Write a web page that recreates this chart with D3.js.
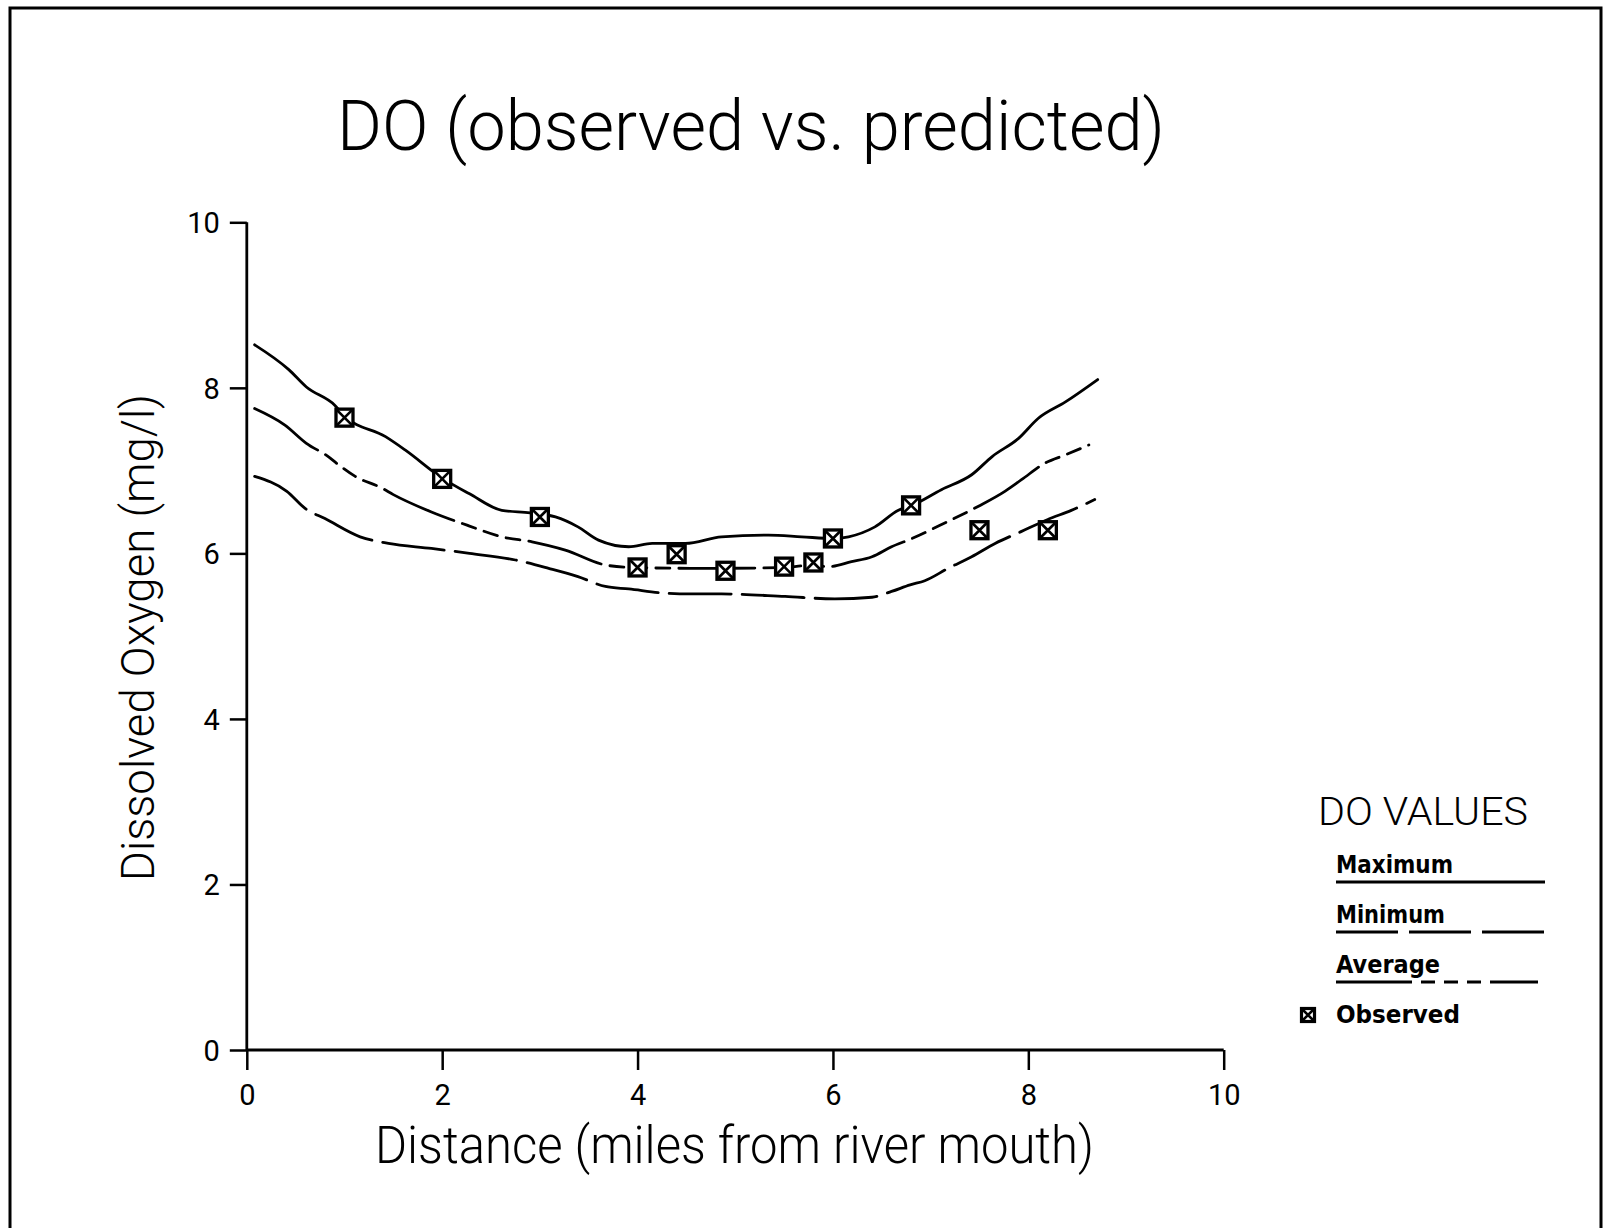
<!DOCTYPE html>
<html>
<head>
<meta charset="utf-8">
<script src="https://cdn.jsdelivr.net/npm/d3@7"></script>
<style>
  html, body { margin: 0; padding: 0; background: #fff; }
  svg { display: block; }
  .thin { font-family: Roboto, "Liberation Sans Narrow", "DejaVu Sans", sans-serif; font-weight: 300; }
  .tick-label { font-family: Roboto, "Liberation Sans Narrow", "DejaVu Sans", sans-serif; font-weight: 400; }
  .bold { font-family: "DejaVu Sans", Verdana, sans-serif; font-weight: bold; }
</style>
</head>
<body>
<svg id="chart" width="1603" height="1228"></svg>
<script>
// Predicted DO along the river: maximum, average and minimum model output
const maxDist = [0.08, 0.43, 0.61, 0.90, 1.00, 1.42, 1.62, 2.00, 2.28, 2.61, 2.90, 3.16, 3.39, 3.60, 3.91, 4.15, 4.49, 4.86, 5.34, 5.68, 6.00, 6.16, 6.43, 6.67, 6.81, 7.11, 7.42, 7.63, 7.90, 8.10, 8.38, 8.71];
const maxDO   = [8.52, 8.22, 8.01, 7.79, 7.66, 7.41, 7.25, 6.91, 6.72, 6.52, 6.49, 6.44, 6.32, 6.16, 6.08, 6.12, 6.12, 6.20, 6.22, 6.20, 6.18, 6.20, 6.32, 6.52, 6.58, 6.77, 6.95, 7.17, 7.39, 7.63, 7.83, 8.10];

const avgDist = [0.08, 0.39, 0.61, 0.82, 0.94, 1.11, 1.38, 1.50, 1.89, 2.28, 2.61, 2.92, 3.26, 3.67, 3.94, 4.54, 4.90, 5.51, 5.80, 5.95, 6.19, 6.40, 6.60, 6.79, 7.15, 7.49, 7.76, 7.93, 8.17, 8.38, 8.62];
const avgDO   = [7.75, 7.55, 7.33, 7.18, 7.07, 6.93, 6.79, 6.71, 6.50, 6.33, 6.20, 6.14, 6.04, 5.86, 5.83, 5.82, 5.82, 5.83, 5.86, 5.84, 5.90, 5.96, 6.08, 6.17, 6.37, 6.57, 6.75, 6.89, 7.09, 7.19, 7.31];

const minDist = [0.08, 0.41, 0.60, 0.80, 1.16, 1.45, 1.89, 2.28, 2.75, 3.09, 3.39, 3.67, 3.91, 4.28, 4.54, 4.86, 5.51, 6.02, 6.40, 6.60, 6.79, 6.94, 7.18, 7.42, 7.66, 7.92, 8.20, 8.44, 8.68];
const minDO   = [6.93, 6.75, 6.54, 6.42, 6.20, 6.12, 6.06, 6.00, 5.92, 5.82, 5.72, 5.60, 5.57, 5.52, 5.51, 5.51, 5.48, 5.45, 5.47, 5.54, 5.62, 5.67, 5.82, 5.96, 6.12, 6.26, 6.41, 6.52, 6.65];

// Field observations
const obsDist = [1.0, 2.0, 3.0, 4.0, 4.4, 4.9, 5.5, 5.8, 6.0, 6.8, 7.5, 8.2];
const obsDO   = [7.64, 6.90, 6.44, 5.83, 5.99, 5.79, 5.84, 5.89, 6.18, 6.58, 6.28, 6.28];

// Axis ticks
const distTicks = [0, 2, 4, 6, 8, 10];
const doTicks = [0, 2, 4, 6, 8, 10];

const legendItems = ["Maximum", "Minimum", "Average"];

const svg = d3.select("#chart");

const x = d3.scaleLinear().domain([0, 10]).range([246.8, 1223.7]);
const y = d3.scaleLinear().domain([0, 10]).range([1050, 222.3]);

// Page frame
svg.append("path")
  .attr("d", "M10,1228 V8 H1601 V1228")
  .attr("fill", "none").attr("stroke", "#000").attr("stroke-width", 3);

// Title
svg.append("text").attr("class", "thin")
  .attr("x", 337).attr("y", 150)
  .attr("font-size", 70)
  .attr("textLength", 828).attr("lengthAdjust", "spacingAndGlyphs")
  .text("DO (observed vs. predicted)");

// Axes
const xAxis = d3.axisBottom(x).tickValues(distTicks).tickSize(20).tickPadding(10).tickFormat(d3.format("d"));
const yAxis = d3.axisLeft(y).tickValues(doTicks).tickSize(17).tickPadding(10).tickFormat(d3.format("d"));

const gx = svg.append("g").attr("transform", `translate(0,${y(0)})`).call(xAxis);
const gy = svg.append("g").attr("transform", `translate(${x(0)},0)`).call(yAxis);

[gx, gy].forEach(g => {
  g.select(".domain").attr("stroke", "#000").attr("stroke-width", 2.8);
  g.selectAll(".tick line").attr("stroke", "#000").attr("stroke-width", 2.5);
  g.selectAll(".tick text")
    .attr("class", "tick-label")
    .attr("font-size", 29)
    .attr("fill", "#000");
});
gx.select(".domain").attr("d", `M${x(0)},0H${x(10)}`);
gy.select(".domain").attr("d", `M0,${y(10)}V${y(0)}`);
gx.selectAll(".tick text").attr("dy", "0.85em");
gy.selectAll(".tick text").attr("dy", "0.36em");

// Axis titles
svg.append("text").attr("class", "thin")
  .attr("x", 375).attr("y", 1163)
  .attr("font-size", 51)
  .attr("textLength", 719).attr("lengthAdjust", "spacingAndGlyphs")
  .text("Distance (miles from river mouth)");

svg.append("text").attr("class", "thin")
  .attr("transform", "translate(154,881) rotate(-90)")
  .attr("font-size", 46)
  .attr("textLength", 487).attr("lengthAdjust", "spacingAndGlyphs")
  .text("Dissolved Oxygen (mg/l)");

// Line styles
const dashes = {
  Maximum: null,
  Minimum: "62 11",
  Average: "76 9 14 9 14 9 14 9"
};

const line = d3.line()
  .x(d => x(d[0]))
  .y(d => y(d[1]))
  .curve(d3.curveMonotoneX);

const series = [
  { name: "Maximum", xs: maxDist, ys: maxDO },
  { name: "Average", xs: avgDist, ys: avgDO },
  { name: "Minimum", xs: minDist, ys: minDO }
];

series.forEach(s => {
  svg.append("path")
    .datum(d3.zip(s.xs, s.ys))
    .attr("d", line)
    .attr("fill", "none")
    .attr("stroke", "#000")
    .attr("stroke-width", 2.8)
    .attr("stroke-linecap", "round")
    .attr("stroke-dasharray", dashes[s.name]);
});

// Observed markers: boxed X
function boxX(g, cx, cy, size, sw) {
  const h = size / 2;
  g.append("rect")
    .attr("x", cx - h).attr("y", cy - h)
    .attr("width", size).attr("height", size)
    .attr("fill", "#fff").attr("stroke", "#000").attr("stroke-width", sw);
  g.append("path")
    .attr("d", `M${cx - h},${cy - h}L${cx + h},${cy + h}M${cx + h},${cy - h}L${cx - h},${cy + h}`)
    .attr("stroke", "#000").attr("stroke-width", sw * 0.8).attr("fill", "none");
}

const obsG = svg.append("g");
d3.zip(obsDist, obsDO).forEach(([dx, dy]) => boxX(obsG, x(dx), y(dy), 17, 3.3));

// Legend
const lg = svg.append("g");
lg.append("text").attr("class", "thin")
  .attr("x", 1318).attr("y", 825)
  .attr("font-size", 38)
  .attr("textLength", 210).attr("lengthAdjust", "spacingAndGlyphs")
  .text("DO VALUES");

const legendTextLen = { Maximum: 117, Minimum: 109, Average: 104 };
const legendLineEnd = { Maximum: 1545, Minimum: 1545, Average: 1538 };
legendItems.forEach((name, i) => {
  const base = 873 + i * 50;
  lg.append("text").attr("class", "bold")
    .attr("x", 1336).attr("y", base)
    .attr("font-size", 24)
    .attr("textLength", legendTextLen[name]).attr("lengthAdjust", "spacingAndGlyphs")
    .text(name);
  lg.append("line")
    .attr("x1", 1336).attr("x2", legendLineEnd[name])
    .attr("y1", base + 9).attr("y2", base + 9)
    .attr("stroke", "#000").attr("stroke-width", 2.8)
    .attr("stroke-dasharray", dashes[name]);
});

boxX(lg, 1308, 1015, 13, 3.2);
lg.append("text").attr("class", "bold")
  .attr("x", 1336).attr("y", 1023)
  .attr("font-size", 24)
  .attr("textLength", 124).attr("lengthAdjust", "spacingAndGlyphs")
  .text("Observed");
</script>
</body>
</html>
